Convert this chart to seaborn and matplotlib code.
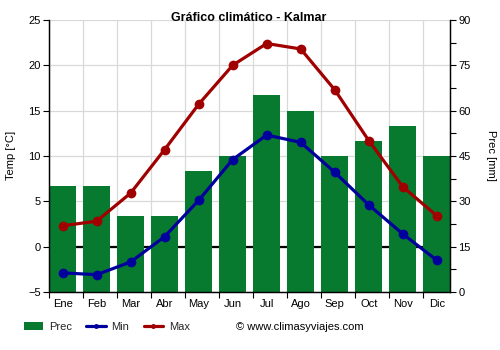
import numpy as np
import matplotlib
matplotlib.use("Agg")
import matplotlib.pyplot as plt
from matplotlib.lines import Line2D
from matplotlib.patches import Patch
from matplotlib.ticker import FixedLocator, MultipleLocator
import seaborn as sns

# Monthly climate data for Kalmar
months = ["Ene", "Feb", "Mar", "Abr", "May", "Jun", "Jul", "Ago", "Sep", "Oct", "Nov", "Dic"]
prec = [35, 35, 25, 25, 40, 45, 65, 60, 45, 50, 55, 45]
tmin = [-2.9, -3.1, -1.7, 1.1, 5.1, 9.6, 12.3, 11.5, 8.2, 4.6, 1.4, -1.5]
tmax = [2.3, 2.8, 5.9, 10.7, 15.7, 20.0, 22.4, 21.8, 17.3, 11.7, 6.6, 3.4]

sns.set_theme(style="white")
plt.rcParams["font.family"] = ["Liberation Sans", "DejaVu Sans"]

GREEN = "#077a30"
RED = "#a00000"
BLUE = "#00009c"
GRID = "#d9d9d9"

fig = plt.figure(figsize=(5, 3.5), dpi=100)
ax_p = fig.add_axes([0.098, 0.166, 0.802, 0.777])
ax_t = ax_p.twinx()

# precipitation bars (behind), temperature lines on top
sns.barplot(x=months, y=prec, order=months, color=GREEN, saturation=1,
            width=0.78, linewidth=0, ax=ax_p, zorder=2)
ax_p.axhline(15, color="black", lw=1.6, zorder=1.5)

pos = np.arange(len(months))
sns.lineplot(x=pos, y=tmin, color=BLUE, lw=2.3, marker="o", markersize=7,
             markeredgewidth=0, ax=ax_t, zorder=3)
sns.lineplot(x=pos, y=tmax, color=RED, lw=2.3, marker="o", markersize=7,
             markeredgewidth=0, ax=ax_t, zorder=3)

# limits
ax_t.set_ylim(-5, 25)
ax_p.set_ylim(0, 90)
ax_p.set_xlim(-0.4, 11.39)

# y axes: temperature left, precipitation right
ax_p.yaxis.tick_right()
ax_p.yaxis.set_label_position("right")
ax_t.yaxis.tick_left()
ax_t.yaxis.set_label_position("left")

ax_t.yaxis.set_major_locator(MultipleLocator(5))
ax_p.yaxis.set_major_locator(MultipleLocator(15))
ax_p.yaxis.set_minor_locator(MultipleLocator(7.5))

ax_p.xaxis.set_major_locator(FixedLocator(pos))
ax_p.set_xticklabels(months)
ax_p.xaxis.set_minor_locator(FixedLocator([k + 0.6 for k in range(-1, 11)]))

# grid on the back axes
ax_p.grid(False)
ax_t.grid(False)
ax_p.grid(True, axis="y", which="major", color=GRID, lw=0.9, zorder=0)
ax_p.grid(True, axis="x", which="minor", color=GRID, lw=0.9, zorder=0)
ax_p.set_axisbelow(True)

tick_kw = dict(labelsize=8, colors="black", direction="out", width=0.8)
ax_t.tick_params(axis="y", which="both", left=True, right=False, length=4, pad=2, **tick_kw)
ax_p.tick_params(axis="y", which="both", right=True, left=False, length=4, pad=2, **tick_kw)
ax_p.tick_params(axis="x", which="major", bottom=True, length=0, pad=5, **tick_kw)
ax_p.tick_params(axis="x", which="minor", bottom=True, length=4, width=0.8, color="black")

for a in (ax_p, ax_t):
    a.spines["top"].set_visible(False)
    for s in ("left", "right", "bottom"):
        a.spines[s].set_color("black")
        a.spines[s].set_linewidth(0.9)

ax_p.set_xlabel("")
ax_t.set_ylabel("Temp [°C]", fontsize=8, color="black", labelpad=9)
ax_p.set_ylabel("Prec [mm]", fontsize=8, color="black", rotation=-90, labelpad=18)

fig.text(0.498, 1 - 18 / 350, "Gráfico climático - Kalmar", ha="center", va="center",
         fontsize=9, fontweight="bold", color="black")

handles = [
    Patch(facecolor=GREEN, edgecolor="none"),
    Line2D([], [], color=BLUE, lw=2.3, marker="o", markersize=2.5),
    Line2D([], [], color=RED, lw=2.3, marker="o", markersize=2.5),
]
fig.legend(handles, ["Prec", "Min", "Max"], loc="center left",
           bbox_to_anchor=(0.028, 1 - 326.5 / 350), ncol=3, frameon=False,
           fontsize=8, handlelength=1.75, handleheight=0.75, handletextpad=0.5,
           columnspacing=1.3)
fig.text(0.472, 1 - 326.5 / 350, "© www.climasyviajes.com", ha="left", va="center",
         fontsize=8, color="black")

fig.savefig("out.png", dpi=100)
